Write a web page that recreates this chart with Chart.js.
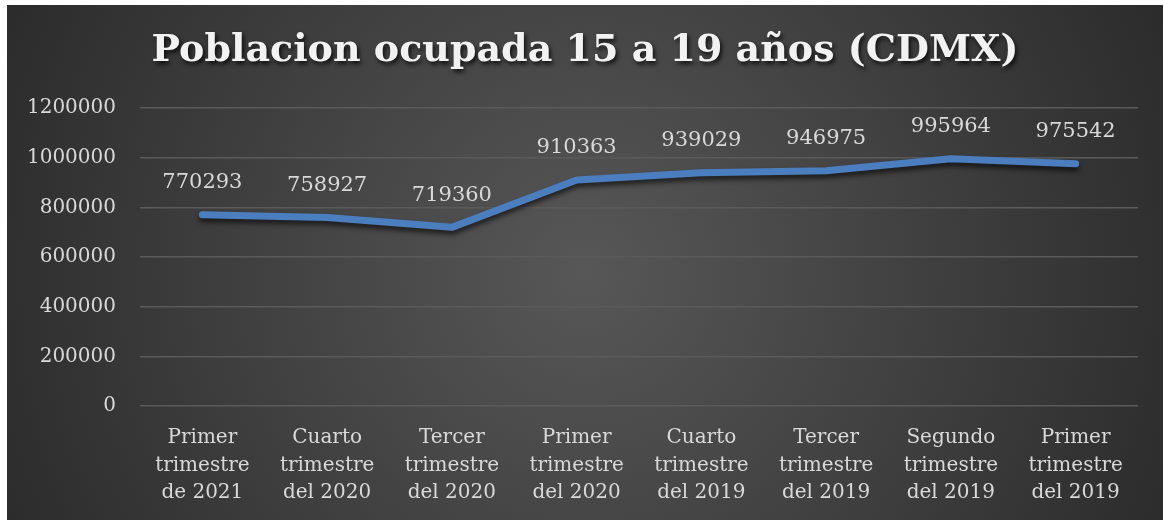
<!DOCTYPE html>
<html>
<head>
<meta charset="utf-8">
<script src="https://cdn.jsdelivr.net/npm/chart.js@4.4.1/dist/chart.umd.min.js"></script>
<style>
  html, body { margin: 0; padding: 0; background: #fff; }
  #wrap { position: absolute; left: 7px; top: 5px; width: 1156px; height: 515px; }
</style>
</head>
<body>
<div id="wrap"><canvas id="line-chart"></canvas></div>
<script>
var chartTitle = 'Poblacion ocupada 15 a 19 años (CDMX)';
var quarters = [
  ['Primer', 'trimestre', 'de 2021'],
  ['Cuarto', 'trimestre', 'del 2020'],
  ['Tercer', 'trimestre', 'del 2020'],
  ['Primer', 'trimestre', 'del 2020'],
  ['Cuarto', 'trimestre', 'del 2019'],
  ['Tercer', 'trimestre', 'del 2019'],
  ['Segundo', 'trimestre', 'del 2019'],
  ['Primer', 'trimestre', 'del 2019']
];
var ocupados = [770293, 758927, 719360, 910363, 939029, 946975, 995964, 975542];
var yTicks = [0, 200000, 400000, 600000, 800000, 1000000, 1200000];

var serif = "'DejaVu Serif', serif";
var txtColor = '#d9d9d9';

// dark radial background + title with shadow
var backdrop = {
  id: 'backdrop',
  beforeDraw: function(chart) {
    var c = chart.ctx, w = chart.width, h = chart.height;
    var g = c.createRadialGradient(w * 0.5, h * 0.52, 0, w * 0.5, h * 0.52, w * 0.62);
    g.addColorStop(0, '#575757');
    g.addColorStop(1, '#262626');
    c.save();
    c.fillStyle = g;
    c.fillRect(0, 0, w, h);
    c.restore();
  },
  afterDraw: function(chart) {
    var c = chart.ctx;
    c.save();
    c.font = 'bold 38px ' + serif;
    c.textAlign = 'center';
    c.textBaseline = 'middle';
    c.fillStyle = '#f2f2f2';
    c.shadowColor = 'rgba(0,0,0,0.75)';
    c.shadowOffsetX = 2;
    c.shadowOffsetY = 3;
    c.shadowBlur = 4;
    c.fillText(chartTitle, chart.width / 2, 46);
    c.restore();
  }
};

// line shadow + value labels above points
var pointLabels = {
  id: 'pointLabels',
  beforeDatasetsDraw: function(chart) {
    var c = chart.ctx;
    c.save();
    c.shadowColor = 'rgba(0,0,0,0.6)';
    c.shadowOffsetY = 4;
    c.shadowBlur = 5;
  },
  afterDatasetsDraw: function(chart) {
    var c = chart.ctx;
    c.restore();
    var meta = chart.getDatasetMeta(0);
    c.save();
    c.font = '21px ' + serif;
    c.fillStyle = txtColor;
    c.textAlign = 'center';
    c.textBaseline = 'middle';
    meta.data.forEach(function(pt, i) {
      c.fillText(String(ocupados[i]), pt.x, pt.y - 32);
    });
    c.restore();
  }
};

var ctx = document.getElementById('line-chart');
var myLineChart = new Chart(ctx, {
  type: 'line',
  data: {
    labels: quarters,
    datasets: [{
      label: 'Poblacion ocupada',
      data: ocupados,
      borderColor: '#4a7ebf',
      borderWidth: 7,
      borderCapStyle: 'round',
      borderJoinStyle: 'round',
      pointRadius: 0,
      pointHoverRadius: 0,
      fill: false,
      tension: 0
    }]
  },
  options: {
    responsive: true,
    maintainAspectRatio: false,
    animation: false,
    layout: { padding: { top: 103, right: 25, bottom: 0, left: 0 } },
    plugins: {
      legend: { display: false },
      title: { display: false },
      tooltip: { enabled: false }
    },
    scales: {
      x: {
        offset: true,
        grid: { display: false, drawTicks: false },
        border: { display: false },
        ticks: {
          color: txtColor,
          font: { family: serif, size: 20, lineHeight: 1.38 },
          padding: 18,
          maxRotation: 0,
          autoSkip: false
        },
        afterFit: function(scale) { scale.height = 114; }
      },
      y: {
        min: 0,
        max: 1200000,
        afterBuildTicks: function(scale) {
          scale.ticks = yTicks.map(function(v) { return { value: v }; });
        },
        grid: { color: '#5a5a5a', lineWidth: 1.5, drawTicks: false },
        border: { display: false },
        ticks: {
          color: txtColor,
          font: { family: serif, size: 20 },
          padding: 24,
          callback: function(v) { return String(v); }
        },
        afterFit: function(scale) { scale.width = 133; }
      }
    }
  },
  plugins: [backdrop, pointLabels]
});
</script>
</body>
</html>
